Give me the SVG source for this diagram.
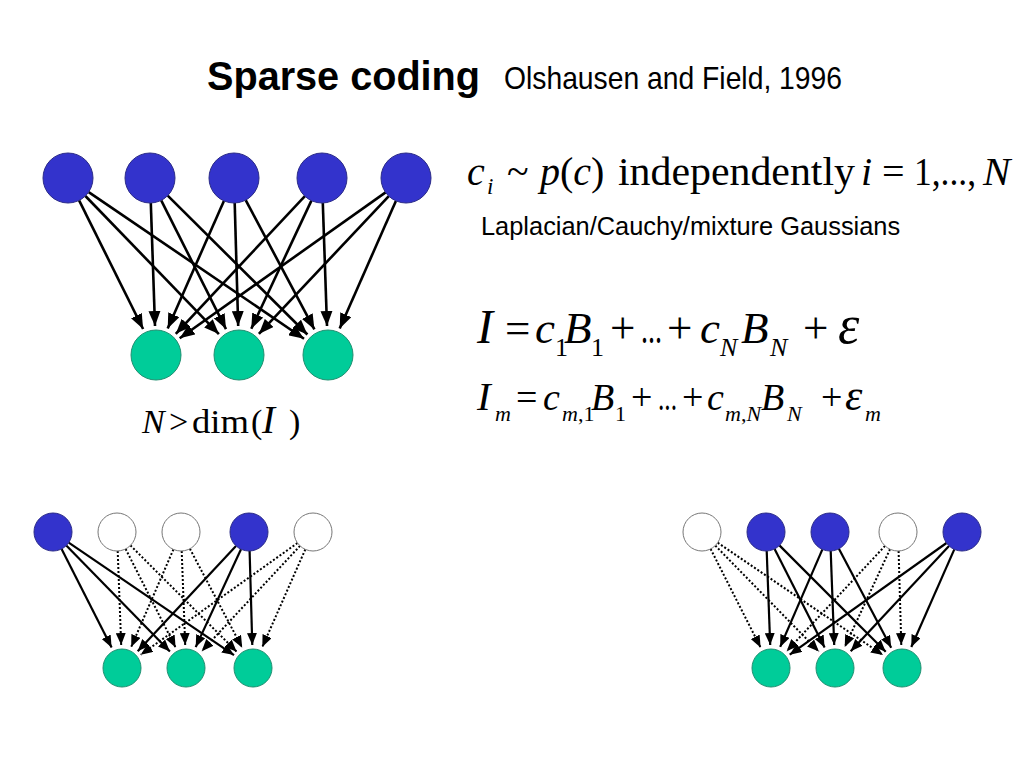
<svg xmlns="http://www.w3.org/2000/svg" width="1024" height="768" viewBox="0 0 1024 768">
<defs>
<style>
.blue{fill:#3333CC;stroke:#2a2a88;stroke-width:1}
.green{fill:#00CC99;stroke:#1f8f70;stroke-width:1}
.white{fill:#ffffff;stroke:#777777;stroke-width:1}
.e{stroke:#000;stroke-width:2.6;fill:none;marker-end:url(#ah)}
.s{stroke:#000;stroke-width:2.2;fill:none;marker-end:url(#ahs)}
.d{stroke:#000;stroke-width:2;fill:none;stroke-dasharray:2 2;marker-end:url(#ahs)}
.sans{font-family:"Liberation Sans",Arial,sans-serif;fill:#000}
.m{font-family:"Liberation Serif","Times New Roman",serif;fill:#000}
.it{font-style:italic}
</style>
<marker id="ah" markerUnits="userSpaceOnUse" markerWidth="15" markerHeight="12" viewBox="0 0 15 12" refX="15" refY="6" orient="auto">
<path d="M0,0 L15,6 L0,12 z" fill="#000"/>
</marker>
<marker id="ahs" markerUnits="userSpaceOnUse" markerWidth="12" markerHeight="10" viewBox="0 0 12 10" refX="12" refY="5" orient="auto">
<path d="M0,0 L12,5 L0,10 z" fill="#000"/>
</marker>
</defs>
<rect width="1024" height="768" fill="#ffffff"/>

<g id="title">
<text class="sans" x="207" y="90" font-size="41" font-weight="bold" textLength="273" lengthAdjust="spacingAndGlyphs">Sparse coding</text>
<text class="sans" x="504" y="89" font-size="32" textLength="338" lengthAdjust="spacingAndGlyphs">Olshausen and Field, 1996</text>
</g>

<g id="connectors">
<g id="top-edges">
<line class="e" x1="79.1" y1="200.4" x2="143.1" y2="329.0"/>
<line class="e" x1="85.4" y1="196.0" x2="218.9" y2="334.1"/>
<line class="e" x1="88.7" y1="192.1" x2="304.0" y2="338.7"/>
<line class="e" x1="150.8" y1="203.0" x2="155.0" y2="326.0"/>
<line class="e" x1="161.2" y1="200.3" x2="226.0" y2="329.1"/>
<line class="e" x1="167.7" y1="195.6" x2="307.4" y2="334.5"/>
<line class="e" x1="223.9" y1="200.9" x2="167.7" y2="328.5"/>
<line class="e" x1="234.7" y1="203.0" x2="238.2" y2="326.0"/>
<line class="e" x1="245.7" y1="200.1" x2="314.4" y2="329.4"/>
<line class="e" x1="304.9" y1="196.2" x2="175.8" y2="333.8"/>
<line class="e" x1="311.4" y1="200.6" x2="251.3" y2="328.7"/>
<line class="e" x1="322.8" y1="203.0" x2="327.0" y2="326.0"/>
<line class="e" x1="385.6" y1="192.4" x2="179.7" y2="338.2"/>
<line class="e" x1="388.8" y1="196.2" x2="258.9" y2="333.9"/>
<line class="e" x1="395.9" y1="200.9" x2="339.7" y2="328.5"/>
</g>
<g id="left-edges">
<line class="s" x1="61.6" y1="548.9" x2="111.6" y2="647.5"/>
<line class="s" x1="66.3" y1="545.6" x2="169.9" y2="651.6"/>
<line class="s" x1="68.7" y1="542.7" x2="234.0" y2="655.1"/>
<line class="d" x1="117.7" y1="551.0" x2="121.2" y2="645.0"/>
<line class="d" x1="125.6" y1="548.9" x2="175.6" y2="647.5"/>
<line class="d" x1="130.4" y1="545.4" x2="236.7" y2="651.7"/>
<line class="d" x1="173.4" y1="549.4" x2="131.2" y2="646.9"/>
<line class="d" x1="181.7" y1="551.0" x2="185.2" y2="645.0"/>
<line class="d" x1="189.9" y1="548.8" x2="242.2" y2="647.7"/>
<line class="s" x1="236.0" y1="545.9" x2="137.7" y2="651.2"/>
<line class="s" x1="241.0" y1="549.2" x2="195.7" y2="647.1"/>
<line class="s" x1="249.6" y1="551.0" x2="252.3" y2="645.0"/>
<line class="d" x1="297.5" y1="543.0" x2="140.7" y2="654.7"/>
<line class="d" x1="300.0" y1="545.9" x2="201.7" y2="651.2"/>
<line class="d" x1="305.3" y1="549.4" x2="262.3" y2="647.0"/>
</g>
<g id="right-edges" transform="translate(649,0)">
<line class="d" x1="61.6" y1="548.9" x2="111.6" y2="647.5"/>
<line class="d" x1="66.3" y1="545.6" x2="169.9" y2="651.6"/>
<line class="d" x1="68.7" y1="542.7" x2="234.0" y2="655.1"/>
<line class="s" x1="117.7" y1="551.0" x2="121.2" y2="645.0"/>
<line class="s" x1="125.6" y1="548.9" x2="175.6" y2="647.5"/>
<line class="s" x1="130.4" y1="545.4" x2="236.7" y2="651.7"/>
<line class="s" x1="173.4" y1="549.4" x2="131.2" y2="646.9"/>
<line class="s" x1="181.7" y1="551.0" x2="185.2" y2="645.0"/>
<line class="s" x1="189.9" y1="548.8" x2="242.2" y2="647.7"/>
<line class="d" x1="236.0" y1="545.9" x2="137.7" y2="651.2"/>
<line class="d" x1="241.0" y1="549.2" x2="195.7" y2="647.1"/>
<line class="d" x1="249.6" y1="551.0" x2="252.3" y2="645.0"/>
<line class="s" x1="297.5" y1="543.0" x2="140.7" y2="654.7"/>
<line class="s" x1="300.0" y1="545.9" x2="201.7" y2="651.2"/>
<line class="s" x1="305.3" y1="549.4" x2="262.3" y2="647.0"/>
</g>
</g>

<g id="top-net-nodes">
<g id="t1"><circle class="blue" cx="68" cy="178" r="25"/></g>
<g id="t2"><circle class="blue" cx="150" cy="178" r="25"/></g>
<g id="t3"><circle class="blue" cx="234" cy="178" r="25"/></g>
<g id="t4"><circle class="blue" cx="322" cy="178" r="25"/></g>
<g id="t5"><circle class="blue" cx="406" cy="178" r="25"/></g>
<g id="b1"><circle class="green" cx="156" cy="355" r="25"/></g>
<g id="b2"><circle class="green" cx="239" cy="355" r="25"/></g>
<g id="b3"><circle class="green" cx="328" cy="355" r="25"/></g>
</g>

<g id="left-net-nodes">
<g id="lt1"><circle class="blue" cx="53" cy="532" r="19"/></g>
<g id="lt2"><circle class="white" cx="117" cy="532" r="19"/></g>
<g id="lt3"><circle class="white" cx="181" cy="532" r="19"/></g>
<g id="lt4"><circle class="blue" cx="249" cy="532" r="19"/></g>
<g id="lt5"><circle class="white" cx="313" cy="532" r="19"/></g>
<g id="lb1"><circle class="green" cx="122" cy="668" r="19"/></g>
<g id="lb2"><circle class="green" cx="186" cy="668" r="19"/></g>
<g id="lb3"><circle class="green" cx="253" cy="668" r="19"/></g>
</g>

<g id="right-net-nodes">
<g id="rt1"><circle class="white" cx="702" cy="532" r="19"/></g>
<g id="rt2"><circle class="blue" cx="766" cy="532" r="19"/></g>
<g id="rt3"><circle class="blue" cx="830" cy="532" r="19"/></g>
<g id="rt4"><circle class="white" cx="898" cy="532" r="19"/></g>
<g id="rt5"><circle class="blue" cx="962" cy="532" r="19"/></g>
<g id="rb1"><circle class="green" cx="771" cy="668" r="19"/></g>
<g id="rb2"><circle class="green" cx="835" cy="668" r="19"/></g>
<g id="rb3"><circle class="green" cx="902" cy="668" r="19"/></g>
</g>

<g id="eq1" class="m" font-size="40">
<text x="467" y="185" class="m it">c</text>
<text x="487" y="194" class="m it" font-size="23">i</text>
<text x="507" y="185" class="m">~</text>
<text x="540" y="185" class="m"><tspan font-style="italic">p</tspan>(<tspan font-style="italic">c</tspan>)</text>
<text x="618" y="185" class="m" font-size="41" textLength="237" lengthAdjust="spacingAndGlyphs">independently</text>
<text x="861" y="185" class="m it">i</text>
<text x="882" y="185" class="m">=</text>
<text x="914" y="185" class="m" textLength="62" lengthAdjust="spacingAndGlyphs">1,...,</text>
<text x="983" y="185" class="m it" font-size="41">N</text>
</g>

<g id="note">
<text class="sans" x="481" y="235" font-size="25.4">Laplacian/Cauchy/mixture Gaussians</text>
</g>

<g id="eq2" class="m" font-size="45">
<text x="477" y="343" class="m it" font-size="48">I</text>
<text x="505" y="343" class="m">=</text>
<text x="535" y="343" class="m it">c</text>
<text x="555" y="356" class="m" font-size="26">1</text>
<text x="564" y="343" class="m it">B</text>
<text x="591" y="356" class="m" font-size="26">1</text>
<text x="610" y="343" class="m">+</text>
<text x="641" y="343" class="m" textLength="21" lengthAdjust="spacingAndGlyphs">...</text>
<text x="667" y="343" class="m">+</text>
<text x="700" y="343" class="m it">c</text>
<text x="720" y="356" class="m it" font-size="26">N</text>
<text x="741" y="343" class="m it">B</text>
<text x="770" y="356" class="m it" font-size="26">N</text>
<text x="803" y="343" class="m">+</text>
<text x="838" y="343" class="m it" font-size="54">ε</text>
</g>

<g id="eq3" class="m" font-size="38">
<text x="477" y="410" class="m it" font-size="41">I</text>
<text x="495" y="421" class="m it" font-size="22">m</text>
<text x="516" y="410" class="m">=</text>
<text x="543" y="410" class="m it">c</text>
<text x="562" y="421" class="m" font-size="22"><tspan font-style="italic">m</tspan>,1</text>
<text x="591" y="410" class="m it">B</text>
<text x="615" y="421" class="m" font-size="22">1</text>
<text x="631" y="410" class="m">+</text>
<text x="658" y="410" class="m" textLength="19" lengthAdjust="spacingAndGlyphs">...</text>
<text x="682" y="410" class="m">+</text>
<text x="707" y="410" class="m it">c</text>
<text x="725" y="421" class="m" font-size="22"><tspan font-style="italic">m</tspan>,<tspan font-style="italic">N</tspan></text>
<text x="761" y="410" class="m it">B</text>
<text x="787" y="421" class="m it" font-size="22">N</text>
<text x="821" y="410" class="m">+</text>
<text x="845" y="410" class="m it" font-size="44">ε</text>
<text x="865" y="421" class="m it" font-size="22">m</text>
</g>

<g id="dim" class="m" font-size="34">
<text x="142" y="433" class="m it">N</text>
<text x="169" y="433" class="m">&gt;</text>
<text x="192" y="433" class="m" textLength="57" lengthAdjust="spacingAndGlyphs">dim</text>
<text x="251" y="433" class="m">(</text>
<text x="262" y="433" class="m it" font-size="39">I</text>
<text x="289" y="433" class="m">)</text>
</g>
</svg>
